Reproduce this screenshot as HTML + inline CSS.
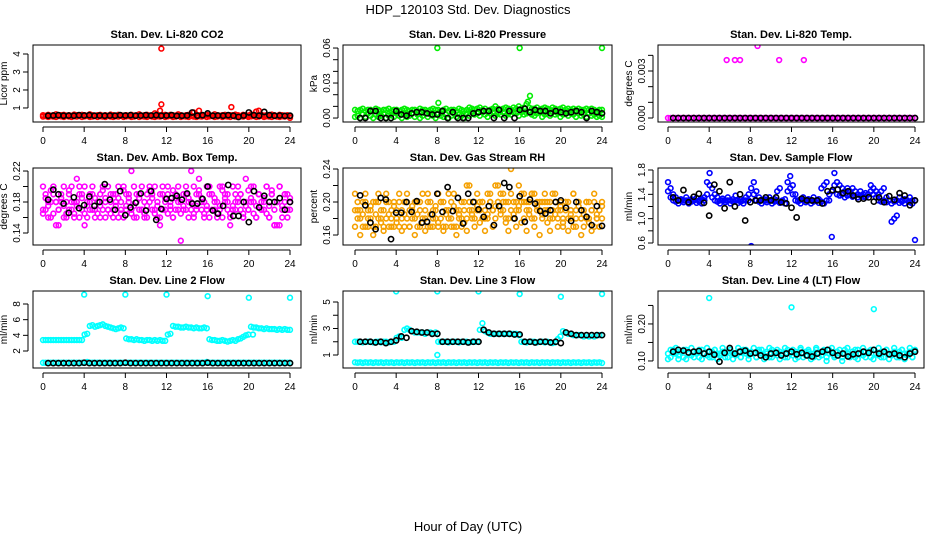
<!DOCTYPE html>
<html><head><meta charset="utf-8">
<style>
html,body{margin:0;padding:0;background:#fff;}
svg{display:block;font-family:"Liberation Sans",Arial,sans-serif;}
</style></head>
<body>
<svg id="chart" width="936" height="540" viewBox="0 0 936 540">
<text x="468" y="14" text-anchor="middle" font-size="13">HDP_120103  Std. Dev. Diagnostics</text>
<text x="468" y="531" text-anchor="middle" font-size="13">Hour of Day (UTC)</text>
</svg>
<script>
// ---------- data ----------
const co2Red=[0.6,0.55,0.62,0.58,0.6,0.65,0.55,0.6,0.62,0.58,0.6,0.57,0.63,0.6,0.55,0.62,0.6,0.58,0.65,0.6,0.55,0.6,0.62,0.58,0.6,0.57,0.63,0.6,0.55,0.62,0.6,0.58,0.6,0.55,0.62,0.58,0.6,0.65,0.55,0.6,0.62,0.58,0.6,0.7,0.63,0.85,0.6,0.62,0.55,0.62,0.6,0.58,0.65,0.6,0.55,0.6,0.62,0.58,0.75,0.57,0.85,0.6,0.55,0.62,0.6,0.58,0.65,0.6,0.55,0.6,0.62,0.58,0.6,0.6,0.63,0.6,0.55,0.62,0.6,0.58,0.65,0.6,0.8,0.85,0.62,0.58,0.6,0.57,0.63,0.6,0.55,0.62,0.6,0.58,0.6,0.55];
const co2RedB=[0.52,0.56,0.5,0.54,0.52,0.5,0.56,0.53,0.5,0.55,0.52,0.5,0.54,0.52,0.56,0.5,0.53,0.55,0.5,0.52,0.56,0.5,0.54,0.52,0.5,0.55,0.52,0.5,0.54,0.52,0.56,0.5,0.53,0.55,0.5,0.52,0.56,0.5,0.54,0.52,0.5,0.55,0.52,0.5,0.54,0.52,0.56,0.5,0.53,0.55,0.5,0.52,0.56,0.5,0.54,0.52,0.5,0.55,0.52,0.5,0.54,0.52,0.56,0.5,0.53,0.55,0.5,0.52,0.56,0.5,0.54,0.52,0.5,0.55,0.52,0.5,0.54,0.52,0.56,0.5,0.53,0.55,0.5,0.52,0.56,0.5,0.54,0.52,0.5,0.55,0.52,0.5,0.54,0.52,0.56,0.45];
const co2OutHours=[11.5,11.5,18.3];
const co2OutVals=[4.3,1.2,1.05];
const co2Black=[0.57,0.58,0.6,0.57,0.58,0.57,0.6,0.58,0.6,0.57,0.58,0.57,0.58,0.57,0.6,0.58,0.6,0.57,0.58,0.6,0.58,0.6,0.57,0.58,0.6,0.56,0.57,0.58,0.75,0.57,0.6,0.7,0.57,0.58,0.57,0.6,0.57,0.5,0.58,0.75,0.6,0.57,0.78,0.6,0.57,0.58,0.56,0.57];

const presGreenA=[0.007,0.006,0.007,0.008,0.006,0.007,0.007,0.006,0.008,0.007,0.006,0.007,0.007,0.008,0.006,0.007,0.007,0.006,0.007,0.008,0.007,0.006,0.007,0.007,0.006,0.008,0.007,0.007,0.006,0.007,0.008,0.007,0.007,0.006,0.007,0.008,0.006,0.007,0.007,0.006,0.008,0.007,0.006,0.007,0.009,0.008,0.007,0.008,0.009,0.007,0.008,0.006,0.007,0.008,0.01,0.008,0.007,0.008,0.009,0.008,0.007,0.009,0.008,0.01,0.008,0.009,0.012,0.009,0.008,0.008,0.009,0.007,0.008,0.009,0.008,0.007,0.009,0.008,0.007,0.008,0.009,0.007,0.008,0.007,0.008,0.007,0.008,0.007,0.007,0.008,0.007,0.008,0.007,0.006,0.007,0.007];
const presGreenB=[0.001,0.002,0.0,0.003,0.001,0.004,0.002,0.0,0.003,0.001,0.002,0.004,0.0,0.002,0.003,0.001,0.004,0.002,0.0,0.003,0.001,0.002,0.004,0.001,0.003,0.0,0.002,0.004,0.001,0.003,0.002,0.0,0.004,0.002,0.001,0.003,0.0,0.002,0.004,0.001,0.003,0.002,0.0,0.004,0.002,0.005,0.003,0.004,0.002,0.005,0.003,0.001,0.004,0.005,0.002,0.004,0.003,0.005,0.002,0.004,0.003,0.005,0.004,0.002,0.005,0.003,0.004,0.005,0.003,0.002,0.004,0.005,0.001,0.003,0.004,0.002,0.005,0.003,0.004,0.001,0.003,0.005,0.002,0.004,0.003,0.001,0.004,0.002,0.003,0.001,0.004,0.002,0.003,0.001,0.002,0.001];
const presOutHours=[8,16,24,8.1,17,16.8];
const presOutVals=[0.06,0.06,0.06,0.013,0.019,0.014];
const presBlack=[0.0,0.0,0.006,0.006,0.0,0.0,0.0,0.006,0.003,0.002,0.004,0.005,0.005,0.004,0.003,0.003,0.006,0.0,0.005,0.0,0.0,0.0,0.004,0.005,0.006,0.006,0.0,0.007,0.0,0.006,0.0,0.007,0.008,0.005,0.007,0.006,0.006,0.004,0.006,0.005,0.004,0.005,0.006,0.005,0.0,0.006,0.005,0.004];

const tempMag=[0.0,0.0,0.0,0.0,0.0,0.0,0.0,0.0,0.0,0.0,0.0,0.0,0.0,0.0,0.0,0.0,0.0,0.0,0.0,0.0,0.0,0.0,0.0,0.0,0.0,0.0,0.0,0.0,0.0,0.0,0.0,0.0,0.0,0.0,0.0,0.0,0.0,0.0,0.0,0.0,0.0,0.0,0.0,0.0,0.0,0.0,0.0,0.0,0.0,0.0,0.0,0.0,0.0,0.0,0.0,0.0,0.0,0.0,0.0,0.0,0.0,0.0,0.0,0.0,0.0,0.0,0.0,0.0,0.0,0.0,0.0,0.0,0.0,0.0,0.0,0.0,0.0,0.0,0.0,0.0,0.0,0.0,0.0,0.0,0.0,0.0,0.0,0.0,0.0,0.0,0.0,0.0,0.0,0.0,0.0,0.0];
const tempOutHours=[5.7,6.5,7.0,8.7,10.8,13.2];
const tempOutVals=[0.0037,0.0037,0.0037,0.0046,0.0037,0.0037];
const tempBlack=[0,0,0,0,0,0,0,0,0,0,0,0,0,0,0,0,0,0,0,0,0,0,0,0,0,0,0,0,0,0,0,0,0,0,0,0,0,0,0,0,0,0,0,0,0,0,0,0];

const boxMagA=[0.2,0.17,0.16,0.18,0.19,0.15,0.17,0.18,0.2,0.16,0.19,0.17,0.18,0.21,0.16,0.19,0.15,0.18,0.17,0.2,0.16,0.18,0.19,0.17,0.16,0.2,0.18,0.17,0.19,0.16,0.18,0.2,0.17,0.19,0.22,0.16,0.18,0.17,0.2,0.16,0.19,0.18,0.17,0.2,0.16,0.15,0.19,0.18,0.2,0.17,0.16,0.19,0.18,0.13,0.17,0.2,0.18,0.22,0.16,0.19,0.21,0.17,0.18,0.2,0.16,0.19,0.17,0.18,0.2,0.16,0.19,0.18,0.15,0.2,0.17,0.18,0.19,0.16,0.21,0.17,0.18,0.2,0.16,0.19,0.18,0.17,0.2,0.16,0.19,0.15,0.18,0.2,0.17,0.19,0.16,0.18];
const boxMagB=[0.17,0.19,0.18,0.16,0.2,0.18,0.17,0.19,0.16,0.18,0.17,0.2,0.16,0.18,0.19,0.17,0.2,0.16,0.18,0.19,0.17,0.18,0.16,0.2,0.18,0.17,0.19,0.16,0.18,0.2,0.17,0.16,0.19,0.18,0.17,0.2,0.16,0.19,0.17,0.18,0.16,0.2,0.19,0.17,0.18,0.16,0.2,0.17,0.19,0.18,0.16,0.17,0.2,0.18,0.19,0.17,0.16,0.18,0.2,0.17,0.19,0.18,0.16,0.17,0.2,0.19,0.18,0.16,0.17,0.2,0.18,0.19,0.16,0.17,0.18,0.2,0.19,0.16,0.18,0.17,0.2,0.18,0.16,0.19,0.17,0.18,0.2,0.16,0.19,0.17,0.18,0.2,0.16,0.18,0.19,0.17];
const boxMagC=[0.165,0.185,0.175,0.195,0.165,0.18,0.15,0.185,0.175,0.165,0.195,0.18,0.165,0.175,0.2,0.185,0.165,0.175,0.19,0.17,0.185,0.165,0.175,0.195,0.185,0.17,0.165,0.19,0.175,0.185,0.165,0.195,0.175,0.185,0.165,0.175,0.19,0.185,0.17,0.165,0.175,0.195,0.185,0.165,0.175,0.19,0.17,0.185,0.165,0.175,0.195,0.185,0.17,0.165,0.175,0.19,0.185,0.17,0.165,0.175,0.195,0.185,0.165,0.175,0.19,0.17,0.185,0.165,0.175,0.195,0.185,0.17,0.165,0.175,0.19,0.185,0.17,0.165,0.175,0.195,0.185,0.165,0.175,0.19,0.17,0.185,0.165,0.175,0.195,0.15,0.15,0.15,0.175,0.19,0.17,0.185];
const boxBlack=[0.183,0.196,0.19,0.178,0.166,0.186,0.172,0.176,0.187,0.175,0.18,0.203,0.183,0.17,0.194,0.163,0.173,0.179,0.191,0.169,0.194,0.157,0.171,0.184,0.185,0.188,0.183,0.191,0.178,0.178,0.184,0.2,0.169,0.165,0.175,0.202,0.162,0.162,0.18,0.154,0.194,0.173,0.188,0.18,0.18,0.185,0.17,0.18];

const rhOrgA=[0.21,0.18,0.19,0.17,0.2,0.18,0.19,0.2,0.17,0.21,0.18,0.19,0.2,0.17,0.18,0.2,0.19,0.21,0.18,0.17,0.2,0.19,0.18,0.2,0.17,0.19,0.21,0.18,0.2,0.17,0.19,0.18,0.21,0.2,0.17,0.19,0.18,0.2,0.21,0.17,0.19,0.18,0.2,0.22,0.19,0.18,0.2,0.21,0.19,0.2,0.18,0.21,0.2,0.19,0.22,0.2,0.19,0.21,0.2,0.18,0.21,0.2,0.19,0.22,0.2,0.21,0.19,0.2,0.18,0.21,0.2,0.19,0.2,0.21,0.19,0.2,0.18,0.21,0.19,0.2,0.18,0.19,0.2,0.18,0.21,0.19,0.2,0.18,0.19,0.2,0.18,0.19,0.2,0.18,0.19,0.2];
const rhOrgB=[0.17,0.19,0.18,0.2,0.17,0.19,0.18,0.17,0.2,0.18,0.19,0.17,0.18,0.2,0.19,0.17,0.18,0.17,0.19,0.2,0.18,0.17,0.19,0.18,0.2,0.17,0.18,0.19,0.17,0.2,0.18,0.19,0.17,0.18,0.2,0.17,0.19,0.18,0.17,0.19,0.18,0.17,0.19,0.18,0.2,0.19,0.18,0.19,0.2,0.18,0.19,0.18,0.2,0.19,0.18,0.2,0.21,0.19,0.18,0.2,0.19,0.18,0.2,0.19,0.21,0.18,0.2,0.19,0.21,0.18,0.19,0.2,0.18,0.19,0.2,0.18,0.19,0.2,0.18,0.19,0.17,0.2,0.18,0.19,0.17,0.18,0.2,0.19,0.17,0.18,0.2,0.19,0.17,0.18,0.19,0.18];
const rhOrgC=[0.19,0.2,0.16,0.185,0.21,0.17,0.195,0.16,0.185,0.2,0.175,0.165,0.21,0.185,0.17,0.195,0.175,0.2,0.165,0.185,0.21,0.17,0.195,0.16,0.185,0.2,0.175,0.165,0.21,0.185,0.17,0.195,0.175,0.2,0.165,0.185,0.21,0.17,0.195,0.16,0.185,0.2,0.175,0.165,0.22,0.185,0.17,0.195,0.175,0.2,0.165,0.185,0.21,0.17,0.195,0.22,0.185,0.2,0.175,0.165,0.24,0.185,0.17,0.195,0.175,0.2,0.165,0.185,0.21,0.17,0.195,0.16,0.185,0.2,0.175,0.165,0.21,0.185,0.17,0.195,0.175,0.2,0.165,0.185,0.21,0.17,0.195,0.16,0.185,0.2,0.175,0.165,0.21,0.185,0.17,0.195];
const rhBlack=[0.208,0.196,0.175,0.167,0.205,0.203,0.155,0.187,0.187,0.2,0.188,0.201,0.175,0.176,0.185,0.21,0.188,0.218,0.189,0.205,0.174,0.21,0.2,0.191,0.182,0.195,0.172,0.195,0.223,0.218,0.18,0.207,0.176,0.203,0.198,0.189,0.186,0.19,0.2,0.202,0.193,0.177,0.2,0.19,0.182,0.172,0.195,0.171];

const flowBlueA=[1.6,1.5,1.4,1.35,1.3,1.32,1.3,1.35,1.3,1.32,1.3,1.34,1.3,1.32,1.35,1.6,1.75,1.5,1.4,1.35,1.3,1.33,1.3,1.35,1.3,1.32,1.38,1.3,1.32,1.3,1.35,1.3,0.55,1.6,1.45,1.35,1.3,1.32,1.3,1.35,1.3,1.32,1.45,1.5,1.3,1.32,1.6,1.7,1.55,1.4,1.3,1.32,1.35,1.3,1.32,1.3,1.35,1.3,1.32,1.5,1.55,1.6,1.3,0.7,1.75,1.6,1.55,1.5,1.45,1.5,1.45,1.5,1.45,1.4,1.45,1.4,1.42,1.4,1.55,1.5,1.45,1.4,1.45,1.5,1.35,1.3,0.95,1.0,1.05,1.35,1.3,1.32,1.3,1.35,1.3,0.65];
const flowBlueB=[1.45,1.35,1.3,1.28,1.25,1.3,1.27,1.3,1.25,1.28,1.3,1.26,1.28,1.25,1.3,1.4,1.55,1.35,1.3,1.28,1.25,1.3,1.27,1.3,1.25,1.28,1.3,1.26,1.28,1.25,1.3,1.4,1.5,1.4,1.3,1.28,1.25,1.3,1.27,1.3,1.25,1.28,1.3,1.26,1.28,1.25,1.45,1.5,1.4,1.3,1.28,1.25,1.3,1.27,1.3,1.25,1.28,1.3,1.26,1.28,1.25,1.3,1.4,1.45,1.55,1.4,1.38,1.4,1.35,1.38,1.4,1.36,1.38,1.35,1.38,1.36,1.35,1.4,1.45,1.4,1.35,1.3,1.28,1.3,1.27,1.3,1.25,1.28,1.3,1.26,1.28,1.25,1.3,1.27,1.25,1.3];
const flowBlack=[1.35,1.3,1.47,1.27,1.36,1.41,1.26,1.05,1.56,1.45,1.17,1.6,1.2,1.4,0.97,1.27,1.3,1.3,1.35,1.3,1.35,1.27,1.25,1.18,1.02,1.33,1.3,1.3,1.3,1.25,1.45,1.47,1.48,1.42,1.45,1.38,1.32,1.33,1.35,1.28,1.35,1.27,1.37,1.31,1.42,1.38,1.22,1.3];

const line2Upper=[3.4,3.4,3.4,3.4,3.4,3.4,3.4,3.4,3.4,3.4,3.4,3.4,3.4,3.4,3.4,3.4,4.1,4.2,5.2,5.3,5.1,5.2,5.3,5.4,5.2,5.1,5.0,4.9,4.8,4.9,5.0,4.9,3.6,3.5,3.5,3.4,3.5,3.4,3.4,3.3,3.4,3.4,3.3,3.4,3.3,3.4,3.3,3.3,4.1,4.2,5.2,5.1,5.1,5.0,5.0,5.1,5.0,5.0,4.9,5.0,4.9,4.9,5.0,4.9,3.5,3.4,3.4,3.3,3.3,3.4,3.3,3.2,3.3,3.4,3.3,3.5,3.6,3.8,4.0,4.1,5.1,5.0,5.0,4.9,4.9,4.8,4.9,4.8,4.8,4.8,4.7,4.8,4.7,4.8,4.7,4.7];
const line2Lower=[0.5,0.5,0.5,0.5,0.5,0.5,0.5,0.5,0.5,0.5,0.5,0.5,0.5,0.5,0.5,0.5,0.5,0.6,0.5,0.5,0.5,0.5,0.5,0.5,0.5,0.5,0.5,0.5,0.5,0.5,0.5,0.5,0.5,0.5,0.5,0.5,0.5,0.5,0.5,0.5,0.5,0.5,0.5,0.5,0.5,0.5,0.5,0.5,0.5,0.5,0.5,0.5,0.5,0.5,0.5,0.5,0.5,0.5,0.5,0.5,0.5,0.5,0.5,0.6,0.5,0.5,0.5,0.5,0.5,0.5,0.5,0.5,0.5,0.5,0.5,0.5,0.5,0.5,0.5,0.5,0.5,0.5,0.5,0.5,0.5,0.5,0.5,0.5,0.5,0.5,0.5,0.5,0.5,0.5,0.5,0.5];
const line2OutHours=[4,8,12,16,20,24,20.4];
const line2OutVals=[9.2,9.2,9.2,9.0,8.8,8.8,4.1];
const line2Black=[0.45,0.45,0.45,0.45,0.45,0.45,0.45,0.5,0.45,0.45,0.45,0.45,0.45,0.45,0.45,0.5,0.45,0.45,0.45,0.45,0.45,0.45,0.45,0.45,0.45,0.45,0.45,0.45,0.45,0.45,0.45,0.5,0.45,0.45,0.45,0.45,0.45,0.45,0.45,0.45,0.45,0.45,0.45,0.45,0.45,0.45,0.45,0.45];

const line3Upper=[2.0,2.0,2.0,1.95,2.0,2.0,2.0,1.95,2.0,2.0,1.95,2.0,2.0,1.95,2.0,2.0,2.3,2.4,2.3,2.9,3.0,2.9,2.8,2.7,2.7,2.7,2.7,2.6,2.7,2.7,2.6,2.7,2.0,2.0,2.0,2.0,1.95,2.0,2.0,2.0,1.95,2.0,2.0,2.0,1.95,2.0,2.0,2.0,2.9,3.4,2.8,2.7,2.6,2.6,2.6,2.6,2.6,2.6,2.6,2.6,2.6,2.6,2.6,2.5,2.0,2.0,1.95,2.0,2.0,2.0,1.95,2.0,2.0,1.95,2.0,1.95,1.9,1.95,2.2,2.4,2.8,2.7,2.6,2.6,2.5,2.5,2.5,2.5,2.4,2.5,2.4,2.5,2.4,2.5,2.5,2.5];
const line3Lower=[0.45,0.42,0.45,0.4,0.45,0.42,0.45,0.4,0.45,0.42,0.45,0.4,0.45,0.42,0.45,0.4,0.45,0.42,0.45,0.4,0.45,0.42,0.45,0.4,0.45,0.42,0.45,0.4,0.45,0.42,0.45,0.4,0.45,0.42,0.45,0.4,0.45,0.42,0.45,0.4,0.45,0.42,0.45,0.4,0.45,0.42,0.45,0.4,0.45,0.42,0.45,0.4,0.45,0.42,0.45,0.4,0.45,0.42,0.45,0.4,0.45,0.42,0.45,0.4,0.45,0.42,0.45,0.4,0.45,0.42,0.45,0.4,0.45,0.42,0.45,0.4,0.45,0.42,0.45,0.4,0.45,0.42,0.45,0.4,0.45,0.42,0.45,0.4,0.45,0.42,0.45,0.4,0.45,0.42,0.45,0.4];
const line3OutHours=[4,8,12,16,20,24,8];
const line3OutVals=[5.8,5.8,5.8,5.6,5.4,5.6,1.0];
const line3Black=[2.0,2.0,2.0,1.95,2.0,1.9,2.0,2.1,2.4,2.3,2.8,2.75,2.7,2.7,2.6,2.6,2.0,2.0,2.0,2.0,2.0,1.95,2.0,2.0,2.9,2.7,2.6,2.6,2.6,2.6,2.55,2.55,2.0,2.0,1.95,2.0,2.0,1.95,2.0,1.9,2.7,2.6,2.5,2.5,2.5,2.5,2.5,2.5];

const line4CyanA=[0.12,0.11,0.13,0.12,0.115,0.125,0.11,0.13,0.12,0.115,0.125,0.12,0.11,0.13,0.12,0.115,0.125,0.11,0.13,0.12,0.115,0.125,0.12,0.11,0.13,0.12,0.115,0.125,0.11,0.13,0.12,0.115,0.125,0.12,0.11,0.13,0.12,0.115,0.125,0.11,0.13,0.12,0.115,0.125,0.12,0.11,0.13,0.12,0.115,0.125,0.11,0.13,0.12,0.115,0.125,0.12,0.11,0.13,0.12,0.115,0.125,0.11,0.13,0.12,0.115,0.125,0.12,0.11,0.13,0.12,0.115,0.125,0.11,0.13,0.12,0.115,0.125,0.12,0.11,0.13,0.12,0.115,0.125,0.11,0.13,0.12,0.115,0.125,0.12,0.11,0.13,0.12,0.115,0.125,0.11,0.13];
const line4CyanB=[0.105,0.13,0.12,0.135,0.105,0.125,0.13,0.105,0.12,0.135,0.11,0.125,0.13,0.105,0.12,0.135,0.11,0.125,0.13,0.105,0.12,0.135,0.11,0.125,0.13,0.105,0.12,0.135,0.11,0.125,0.13,0.105,0.12,0.135,0.11,0.125,0.13,0.105,0.12,0.135,0.11,0.125,0.13,0.105,0.12,0.135,0.11,0.125,0.13,0.105,0.12,0.135,0.11,0.125,0.13,0.105,0.12,0.135,0.11,0.125,0.13,0.1,0.12,0.135,0.11,0.125,0.13,0.1,0.12,0.135,0.11,0.125,0.13,0.105,0.12,0.135,0.11,0.125,0.13,0.105,0.12,0.135,0.11,0.125,0.13,0.105,0.12,0.135,0.11,0.125,0.13,0.105,0.12,0.135,0.11,0.125];
const line4OutHours=[4,12,20];
const line4OutVals=[0.27,0.245,0.24];
const line4Black=[0.125,0.13,0.128,0.123,0.125,0.127,0.12,0.125,0.117,0.098,0.122,0.135,0.12,0.125,0.128,0.12,0.122,0.115,0.11,0.12,0.122,0.115,0.12,0.125,0.118,0.122,0.115,0.112,0.12,0.125,0.13,0.122,0.115,0.12,0.112,0.118,0.12,0.125,0.122,0.13,0.12,0.125,0.118,0.12,0.115,0.11,0.12,0.125];

// ---------- drawing ----------
const NS="http://www.w3.org/2000/svg";
const svg=document.getElementById('chart');
function mk(tag,attrs,parent){const e=document.createElementNS(NS,tag);for(const k in attrs)e.setAttribute(k,attrs[k]);(parent||svg).appendChild(e);return e;}

const cols=[{bl:33,br:301,x0:43,x1:290},{bl:343,br:612,x0:355,x1:602},{bl:658,br:924,x0:668,x1:915}];
const rows=[{t:45,b:122},{t:168,b:245},{t:291,b:368}];

const panels=[
 {name:'co2',title:'Stan. Dev. Li-820 CO2',ylab:'Licor ppm',c:0,r:0,ymin:0.22,ymax:4.5,ticks:[1,2,3,4],labels:['1','2','3','4'],color:'#ff0000',series:[co2RedB,co2Red],oh:co2OutHours,ov:co2OutVals,black:co2Black},
 {name:'pressure',title:'Stan. Dev. Li-820 Pressure',ylab:'kPa',c:1,r:0,ymin:-0.0034,ymax:0.0626,ticks:[0,0.01,0.02,0.03,0.04,0.05,0.06],labels:['0.00','','','0.03','','','0.06'],color:'#00ee00',series:[presGreenB,presGreenA],oh:presOutHours,ov:presOutVals,black:presBlack},
 {name:'li820-temp',title:'Stan. Dev. Li-820 Temp.',ylab:'degrees C',c:2,r:0,ymin:-0.000255,ymax:0.00466,ticks:[0,0.001,0.002,0.003,0.004],labels:['0.000','','','0.003',''],color:'#ff00ff',series:[tempMag],oh:tempOutHours,ov:tempOutVals,black:tempBlack},
 {name:'box-temp',title:'Stan. Dev. Amb. Box Temp.',ylab:'degrees C',c:0,r:1,ymin:0.1245,ymax:0.2239,ticks:[0.14,0.16,0.18,0.2,0.22],labels:['0.14','','0.18','','0.22'],color:'#ff00ff',series:[boxMagA,boxMagB,boxMagC],oh:[],ov:[],black:boxBlack},
 {name:'gas-rh',title:'Stan. Dev. Gas Stream RH',ylab:'percent',c:1,r:1,ymin:0.1479,ymax:0.2412,ticks:[0.16,0.18,0.2,0.22,0.24],labels:['0.16','','0.20','','0.24'],color:'#f5a000',series:[rhOrgA,rhOrgB,rhOrgC],oh:[],ov:[],black:rhBlack},
 {name:'sample-flow',title:'Stan. Dev. Sample Flow',ylab:'ml/min',c:2,r:1,ymin:0.567,ymax:1.833,ticks:[0.6,0.8,1.0,1.2,1.4,1.6,1.8],labels:['0.6','','1.0','','1.4','','1.8'],color:'#0000ff',series:[flowBlueB,flowBlueA],oh:[],ov:[],black:flowBlack},
 {name:'line2-flow',title:'Stan. Dev. Line 2 Flow',ylab:'ml/min',c:0,r:2,ymin:-0.17,ymax:9.66,ticks:[2,4,6,8],labels:['2','4','6','8'],color:'#00ffff',series:[line2Lower,line2Upper],oh:line2OutHours,ov:line2OutVals,black:line2Black},
 {name:'line3-flow',title:'Stan. Dev. Line 3 Flow',ylab:'ml/min',c:1,r:2,ymin:0.02,ymax:5.83,ticks:[1,2,3,4,5],labels:['1','','3','','5'],color:'#00ffff',series:[line3Lower,line3Upper],oh:line3OutHours,ov:line3OutVals,black:line3Black},
 {name:'line4-flow',title:'Stan. Dev. Line 4 (LT) Flow',ylab:'ml/min',c:2,r:2,ymin:0.081,ymax:0.289,ticks:[0.1,0.15,0.2,0.25],labels:['0.10','','0.20',''],color:'#00ffff',series:[line4CyanA,line4CyanB],oh:line4OutHours,ov:line4OutVals,black:line4Black}
];
const xTicks=[0,4,8,12,16,20,24];

panels.forEach(p=>{
  const C=cols[p.c],R=rows[p.r];
  const g=mk('g',{});
  
  
  const xs=h=>C.x0+(C.x1-C.x0)*h/24;
  const ys=v=>R.b-(v-p.ymin)/(p.ymax-p.ymin)*(R.b-R.t);
  const cx=(C.bl+C.br)/2;
  const t=mk('text',{x:cx,y:R.t-7,'text-anchor':'middle','font-size':11,'font-weight':'bold'},g);
  t.textContent=p.title;
  
  
  // data clip
  const clipId='clip-'+p.name;
  const cp=mk('clipPath',{id:clipId},g);
  mk('rect',{x:C.bl,y:R.t,width:C.br-C.bl,height:R.b-R.t},cp);
  const pts=mk('g',{'clip-path':'url(#'+clipId+')',fill:'none','stroke-width':1.6},g);
  
  
  p.series.forEach(arr=>{
    arr.forEach((v,i)=>{
      const h=i*24/(arr.length-1);
      const c=mk('circle',{cx:xs(h),cy:ys(v),r:2.4,stroke:p.color},pts);
      
      
    });
  });
  p.oh.forEach((h,i)=>{
    const c=mk('circle',{cx:xs(h),cy:ys(p.ov[i]),r:2.4,stroke:p.color},pts);
    
    
  });
  p.black.forEach((v,i)=>{
    const h=0.5+i*23.5/(p.black.length-1);
    const c=mk('circle',{cx:xs(h),cy:ys(v),r:2.6,stroke:'#000'},pts);
    
    
  });
  // box
  const b=mk('rect',{x:C.bl,y:R.t,width:C.br-C.bl,height:R.b-R.t,fill:'none',stroke:'#000','stroke-width':1},g);
  
  
  // x axis
  const xa=mk('g',{},g);
  
  
  mk('line',{x1:xs(0),x2:xs(24),y1:R.b+5,y2:R.b+5,stroke:'#000'},xa);
  xTicks.forEach(h=>{
    mk('line',{x1:xs(h),x2:xs(h),y1:R.b+5,y2:R.b+10,stroke:'#000'},xa);
    const l=mk('text',{x:xs(h),y:R.b+22,'text-anchor':'middle','font-size':10},xa);
    l.textContent=h;
  });
  // y axis
  const ya=mk('g',{},g);
  
  
  const ax=C.bl-5;
  mk('line',{x1:ax,x2:ax,y1:ys(p.ticks[0]),y2:ys(p.ticks[p.ticks.length-1]),stroke:'#000'},ya);
  p.ticks.forEach((v,i)=>{
    const y=ys(v);
    mk('line',{x1:ax-5,x2:ax,y1:y,y2:y,stroke:'#000'},ya);
    if(p.labels[i]){
      const l=mk('text',{x:ax-8,y:y,'text-anchor':'middle','font-size':10,transform:'rotate(-90 '+(ax-8)+' '+y+')'},ya);
      l.textContent=p.labels[i];
    }
  });
  const yl=mk('text',{x:C.bl-26,y:(R.t+R.b)/2,'text-anchor':'middle','font-size':10,transform:'rotate(-90 '+(C.bl-26)+' '+((R.t+R.b)/2)+')'},g);
  yl.textContent=p.ylab;
  
  
});
</script>
</body></html>
